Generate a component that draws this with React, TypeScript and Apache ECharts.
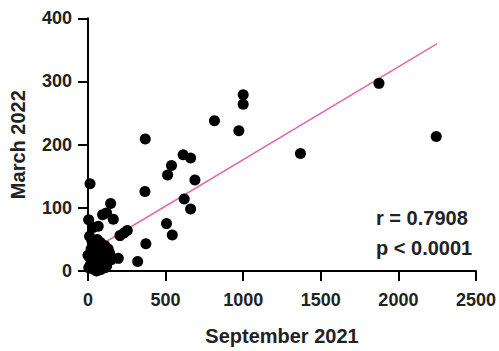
import React, { useEffect, useRef } from "react";
import * as echarts from "echarts";

const xTicks = [0, 500, 1000, 1500, 2000, 2500];
const yTicks = [0, 100, 200, 300, 400];

const sept2021 = [
  1875, 2244, 1369, 1000, 1000, 972, 815, 369, 613, 661,
  13, 367, 538, 513, 689, 620, 661, 506, 543, 373, 320, 195,
  146, 94, 120, 163, 4, 34, 66, 206, 232, 253,
  10, 25, 60, 80, 110, 50, 20, 90, 130, 40, 70, 15, 100, 150,
  35, 60, 85, 120, 5, 30, 55, 80, 110, 45, 15, 0, 70, 140,
];
const march2022 = [
  297, 213, 186, 279, 264, 222, 238, 209, 184, 179,
  138, 126, 167, 152, 144, 114, 98, 75, 57, 43, 15, 20,
  107, 89, 92, 82, 81, 69, 71, 56, 60, 64,
  55, 48, 50, 45, 40, 38, 35, 30, 35, 28, 25, 20, 22, 18,
  15, 12, 10, 8, 5, 3, 0, 2, 5, 8, 10, 25, 40, 28,
];

const fitX = [0, 2250];
const fitY = [29.3, 360];

const statR = "r = 0.7908";
const statP = "p < 0.0001";

const FONT = "Arial, 'Liberation Sans', Helvetica, sans-serif";

export default function App() {
  const ref = useRef<HTMLDivElement>(null);
  useEffect(() => {
    if (!ref.current) return;
    const chart = echarts.init(ref.current, undefined, { renderer: "svg" });
    const points = sept2021.map((x, i) => [x, march2022[i]]);
    const fit = fitX.map((x, i) => [x, fitY[i]]);
    const axisCommon = {
      type: "value" as const,
      splitLine: { show: false },
      axisLine: { show: true, lineStyle: { color: "#000", width: 2 } },
      axisTick: { show: true, length: 10, lineStyle: { color: "#000", width: 2 } },
      axisLabel: {
        color: "#222",
        fontSize: 18,
        fontWeight: "bold" as const,
        fontFamily: FONT,
        formatter: (v: number) => String(v),
      },
      nameTextStyle: { color: "#222", fontSize: 20, fontWeight: "bold" as const, fontFamily: FONT },
      nameLocation: "middle" as const,
    };
    chart.setOption({
      animation: false,
      backgroundColor: "#fff",
      grid: { left: 88, right: 22.3, top: 18.3, bottom: 73.3 },
      xAxis: {
        ...axisCommon,
        min: xTicks[0],
        max: xTicks[xTicks.length - 1],
        interval: 500,
        name: "September 2021",
        nameGap: 55,
        axisLabel: { ...axisCommon.axisLabel, margin: 20 },
      },
      yAxis: {
        ...axisCommon,
        min: yTicks[0],
        max: yTicks[yTicks.length - 1],
        interval: 100,
        name: "March 2022",
        nameGap: 60,
        axisLabel: { ...axisCommon.axisLabel, margin: 16 },
      },
      series: [
        {
          type: "line",
          data: fit,
          symbol: "none",
          lineStyle: { color: "#e06aa8", width: 1.5 },
          z: 1,
        },
        {
          type: "scatter",
          data: points,
          symbolSize: 11,
          itemStyle: { color: "#000", opacity: 1 },
          z: 2,
        },
      ],
      graphic: [
        {
          type: "text",
          left: 376,
          top: 208,
          style: { text: statR, fill: "#222", font: `bold 20px ${FONT}` },
        },
        {
          type: "text",
          left: 376,
          top: 238,
          style: { text: statP, fill: "#222", font: `bold 20px ${FONT}` },
        },
      ],
    });
    return () => chart.dispose();
  }, []);
  return <div ref={ref} style={{ width: 499, height: 351, position: "absolute", left: 0, top: 0 }} />;
}
